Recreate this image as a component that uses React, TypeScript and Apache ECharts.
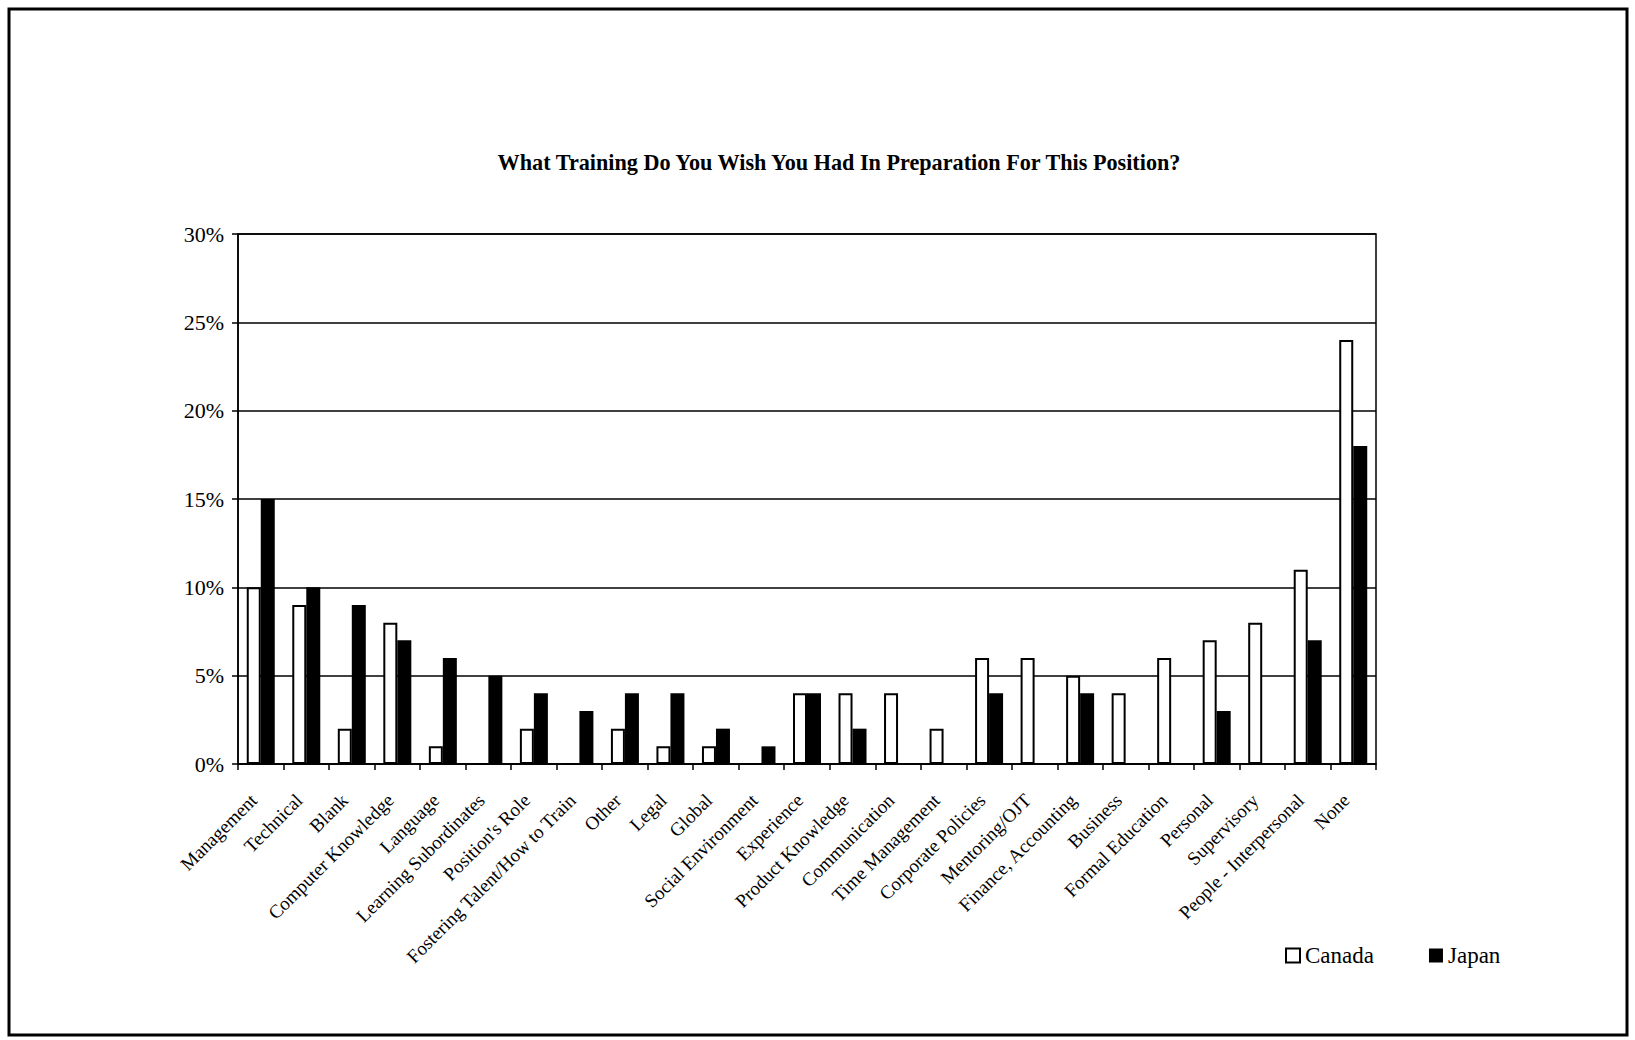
import React, { useEffect, useRef } from "react";
import * as echarts from "echarts";

const categories = [
  "Management",
  "Technical",
  "Blank",
  "Computer Knowledge",
  "Language",
  "Learning Subordinates",
  "Position's Role",
  "Fostering Talent/How to Train",
  "Other",
  "Legal",
  "Global",
  "Social Environment",
  "Experience",
  "Product Knowledge",
  "Communication",
  "Time Management",
  "Corporate Policies",
  "Mentoring/OJT",
  "Finance, Accounting",
  "Business",
  "Formal Education",
  "Personal",
  "Supervisory",
  "People - Interpersonal",
  "None",
];

const canadaValues = [10, 9, 2, 8, 1, 0, 2, 0, 2, 1, 1, 0, 4, 4, 4, 2, 6, 6, 5, 4, 6, 7, 8, 11, 24];
const japanValues = [15, 10, 9, 7, 6, 5, 4, 3, 4, 4, 2, 1, 4, 2, 0, 0, 4, 0, 4, 0, 0, 3, 0, 7, 18];

const yTicks = [0, 5, 10, 15, 20, 25, 30];

const FONT = "'Liberation Serif', 'Times New Roman', serif";

export default function App() {
  const ref = useRef<HTMLDivElement>(null);

  useEffect(() => {
    if (!ref.current) return;
    const chart = echarts.init(ref.current, null, { renderer: "svg" });
    chart.setOption({
      animation: false,
      backgroundColor: "#ffffff",
      title: {
        text: "What Training Do You Wish You Had In Preparation For This Position?",
        left: 834,
        top: 146,
        textAlign: "center",
        textStyle: {
          fontFamily: FONT,
          fontWeight: "bold",
          fontSize: 22.2,
          color: "#000",
        },
      },
      legend: {
        left: 1280,
        top: 939,
        icon: "rect",
        itemWidth: 14,
        itemHeight: 14,
        itemGap: 55,
        textStyle: { fontFamily: FONT, fontSize: 23, color: "#000" },
        data: [
          { name: "Canada", itemStyle: { color: "#fff", borderColor: "#000", borderWidth: 2 } },
          { name: "Japan", itemStyle: { color: "#000", borderColor: "#000", borderWidth: 0 } },
        ],
      },
      graphic: [
        {
          type: "rect",
          shape: { x: 9, y: 9, width: 1618, height: 1026 },
          style: { fill: "none", stroke: "#000", lineWidth: 3 },
          silent: true,
        },
      ],
      grid: {
        left: 238,
        right: 259,
        top: 234,
        bottom: 276,
        show: true,
        borderColor: "#000",
        borderWidth: 1.5,
        containLabel: false,
      },
      xAxis: {
        type: "category",
        data: categories,
        axisLine: { show: true, lineStyle: { color: "#000", width: 1.5 } },
        axisTick: { show: true, alignWithLabel: false, length: 6, lineStyle: { color: "#000", width: 1.5 } },
        axisLabel: {
          interval: 0,
          rotate: 45,
          margin: 26,
          padding: [0, 10, 0, 0],
          fontFamily: FONT,
          fontSize: 19,
          color: "#000",
        },
        splitLine: { show: false },
      },
      yAxis: {
        type: "value",
        min: yTicks[0],
        max: yTicks[yTicks.length - 1],
        interval: 5,
        axisLine: { show: true, lineStyle: { color: "#000", width: 1.5 } },
        axisTick: { show: true, length: 6, lineStyle: { color: "#000", width: 1.5 } },
        axisLabel: {
          margin: 14,
          fontFamily: FONT,
          fontSize: 22,
          color: "#000",
          formatter: (v: number) => `${v}%`,
        },
        splitLine: { show: true, lineStyle: { color: "#000", width: 1.5 } },
      },
      series: [
        {
          name: "Canada",
          type: "bar",
          data: canadaValues,
          barWidth: 14,
          barGap: "0%",
          itemStyle: { color: "#fff", borderColor: "#000", borderWidth: 2 },
        },
        {
          name: "Japan",
          type: "bar",
          data: japanValues,
          barWidth: 14,
          barGap: "0%",
          itemStyle: { color: "#000" },
        },
      ],
    });
    return () => chart.dispose();
  }, []);

  return (
    <div
      ref={ref}
      style={{ position: "absolute", left: 0, top: 0, width: 1635, height: 1040 }}
    />
  );
}
